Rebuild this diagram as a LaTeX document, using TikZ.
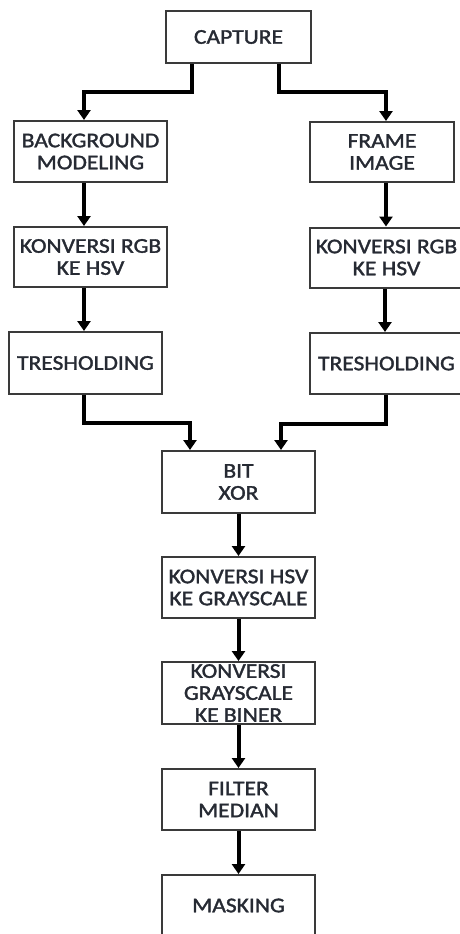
\documentclass[tikz,border=0pt]{standalone}
\usepackage{fontspec}
\setmainfont{Carlito}[FakeStretch=1.12, FakeBold=1.6]
\usetikzlibrary{arrows.meta,calc}
\definecolor{boxline}{HTML}{3A3A3A}
\definecolor{boxtext}{HTML}{262A33}
\tikzset{
  stage/.style = {draw=boxline, line width=1pt, fill=white, minimum width=76.5pt,
                  minimum height=30.5pt, inner sep=0.5pt, align=center, text=boxtext,
                  font=\fontsize{10.5}{11}\selectfont},
  flow/.style  = {-{Triangle[length=5pt,width=6.5pt]}, line width=2pt},
}
\begin{document}
\begin{tikzpicture}[x=0.5pt, y=-0.5pt]
  \useasboundingbox (0,0) rectangle (460,934);
  \clip (0,0) rectangle (460,934);
  % stages
  \node[stage, minimum width=72.5pt, minimum height=26pt] (cap) at (238.5,37) {CAPTURE};
  \node[stage] (bg) at (90.5,151.5) {BACKGROUND\\MODELING};
  \node[stage, minimum width=72pt, minimum height=30pt] (frame) at (382,152) {FRAME\\IMAGE};
  \node[stage, minimum height=30pt] (rgbl) at (90.5,257) {KONVERSI RGB\\KE HSV};
  \node[stage, minimum height=30pt] (rgbr) at (386.5,257.5) {KONVERSI RGB\\KE HSV};
  \node[stage, minimum height=31pt] (thrl) at (85.5,363) {TRESHOLDING};
  \node[stage, minimum height=30.5pt] (thrr) at (386.5,363.5) {TRESHOLDING};
  \node[stage, minimum height=31pt] (xor) at (238.5,482) {BIT\\XOR};
  \node[stage] (hsv) at (238.5,587.5) {KONVERSI HSV\\KE GRAYSCALE};
  \node[stage, minimum height=31pt, inner sep=0pt] (biner) at (238.5,693)
    {KONVERSI\\GRAYSCALE\\KE BINER};
  \node[stage] (median) at (238.5,799.5) {FILTER\\MEDIAN};
  \node[stage] (mask) at (238.5,905.5) {MASKING};
  % connectors
  \draw[flow] ($(cap.south)+(-46.5,0)$) -- ++(0,28) -| ($(bg.north)+(-6.5,0)$);
  \draw[flow] ($(cap.south)+(40.5,0)$) -- ++(0,28) -| ($(frame.north)+(4,0)$);
  \draw[flow] ($(bg.south)+(-6.5,0)$) -- ($(rgbl.north)+(-6.5,0)$);
  \draw[flow] ($(frame.south)+(4,0)$) -- ($(rgbr.north)+(-0.5,0)$);
  \draw[flow] ($(rgbl.south)+(-6.5,0)$) -- ($(thrl.north)+(-1.5,0)$);
  \draw[flow] ($(rgbr.south)+(-1.5,0)$) -- ($(thrr.north)+(-1.5,0)$);
  \draw[flow] ($(thrl.south)+(-1.5,0)$) -- ++(0,28) -| ($(xor.north)+(-48.5,0)$);
  \draw[flow] ($(thrr.south)+(-0.5,0)$) -- ++(0,29) -| ($(xor.north)+(42.5,0)$);
  \foreach \a/\b in {xor/hsv, hsv/biner, biner/median, median/mask}
    \draw[flow] (\a) -- (\b);
\end{tikzpicture}
\end{document}
